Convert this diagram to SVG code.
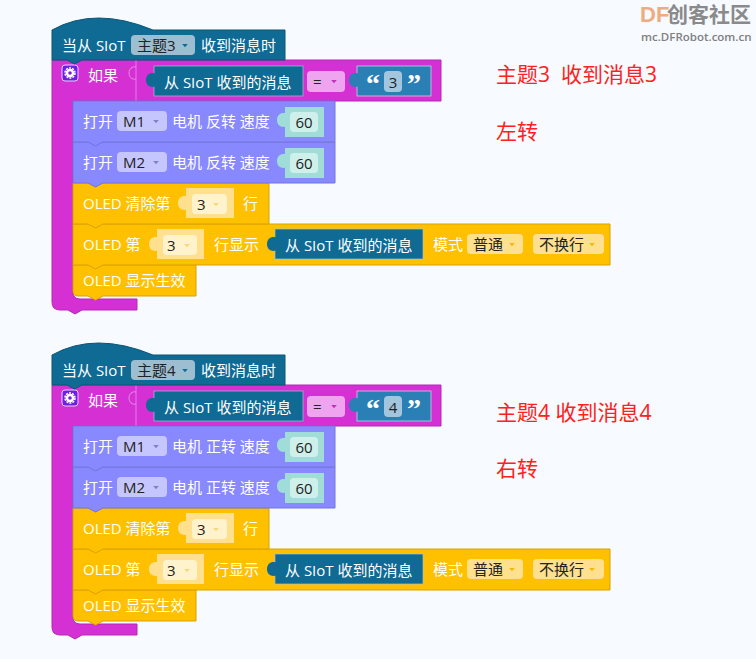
<svg xmlns="http://www.w3.org/2000/svg" width="756" height="659" viewBox="0 0 756 659">
<style>
text{font-family:"Open Sans","Noto Sans CJK SC",sans-serif;font-size:15px;fill:#fff;dominant-baseline:central}
.d{fill:#222}
.hat,.rep{fill:#0f6a94;stroke:#0b5576;stroke-width:1}
.ifb{fill:#d430d4;stroke:#b428b4;stroke-width:1}
.mot{fill:#8888ff;stroke:#7474d9;stroke-width:1}
.ole{fill:#ffc000;stroke:#d9a300;stroke-width:1}
.rep{stroke:#9fc3d4;stroke-width:0.700}
.mf{fill:#c6c6ff}.cf{fill:#cff0ea}.ci{fill:#a0dcd8}.of{fill:#ffe08f}.ol{fill:#fff3cd}
.arw{fill:#8080c8}.arwo{fill:#f5d878}.arwd{fill:#f5b800}
.red{fill:#ff2020;font-size:21px}
</style>
<defs>
<path id="tab" d="M1,0.500C-3,-1 -8,1 -8,7C-8,13 -3,15 1,13.500Z"/>
<path id="dn" d="M-2.800,0H2.800L0,3.200Z"/>
<g id="motor">
<path class="mot" d="M73,0H335V41H103L95.500,45L88,41H73Z"/>
<text x="83" y="20">打开</text>
<rect class="mf" x="117" y="10" width="50" height="20" rx="4"/>
<use href="#dn" x="156" y="19" class="arw"/>
<rect class="ci" x="285" y="6" width="39" height="30"/>
<use href="#tab" x="285" y="12" class="ci"/>
<rect class="cf" x="290" y="11" width="28" height="20" rx="4"/>
<text x="304" y="21" text-anchor="middle" class="d">60</text>
</g>
<g id="gear">
<rect x="62" y="65" width="16" height="16" rx="3" fill="#6f1fe0" stroke="#e9d0ff" stroke-width="1"/>
<circle cx="70" cy="73" r="3" fill="none" stroke="#fff" stroke-width="2.400"/>
<circle cx="70" cy="73" r="5" fill="none" stroke="#fff" stroke-width="1.500" stroke-dasharray="2 1.140"/>
</g>
<g id="oled3">
<path class="ole" d="M73,224H610V265H103L95.500,269L88,265H73Z"/>
<text x="83" y="244">OLED 第</text>
<rect class="of" x="157" y="229" width="47" height="30"/>
<use href="#tab" x="157" y="237" class="of"/>
<rect class="ol" x="163" y="235" width="34" height="20" rx="4"/>
<text x="167" y="245" class="d">3</text>
<use href="#dn" x="187" y="244" class="arwo"/>
<text x="214" y="244">行显示</text>
<rect class="rep" x="275" y="229" width="148" height="30"/>
<use href="#tab" x="275" y="237" fill="#0f6a94"/>
<text x="285" y="245">从 SIoT 收到的消息</text>
<text x="433" y="244">模式</text>
<rect class="of" x="467" y="234" width="56" height="20" rx="4"/>
<text x="473" y="244" class="d">普通</text>
<use href="#dn" x="512" y="243" class="arwd"/>
<rect class="of" x="533" y="234" width="71" height="20" rx="4"/>
<text x="539" y="244" class="d">不换行</text>
<use href="#dn" x="592" y="243" class="arwd"/>
</g>
<g id="oled2">
<path class="ole" d="M73,183H269V224H103L95.500,228L88,224H73Z"/>
<text x="83" y="203">OLED 清除第</text>
<rect class="of" x="186" y="188" width="48" height="30"/>
<use href="#tab" x="186" y="196" class="of"/>
<rect class="ol" x="192" y="194" width="35" height="20" rx="4"/>
<text x="197" y="204" class="d">3</text>
<use href="#dn" x="216" y="203" class="arwo"/>
<text x="243" y="203">行</text>
</g>
<g id="oled1">
<path class="ole" d="M73,265H196V296H103L95.500,300L88,296H78Q73,296 73,291Z"/>
<text x="83" y="280">OLED 显示生效</text>
</g>
<g id="ifbase">
<path class="ifb" d="M52,60H441V101H73V292Q73,299 80,299H137V310H82L75,314L68,310H60Q52,310 52,302Z"/>
<path d="M136,60V101" stroke="#e878e8" stroke-width="1" fill="none"/>
<path d="M136,67C132,66 129,69 129,73C129,77 132,80 136,79" fill="none" stroke="#e88ce8" stroke-width="1"/>
<text x="88" y="75">如果</text>
<rect class="rep" x="154" y="66" width="149" height="30"/>
<use href="#tab" x="154" y="73" fill="#0f6a94"/>
<text x="164" y="82">从 SIoT 收到的消息</text>
<rect x="307" y="71" width="38" height="21" rx="4" fill="#eea4ee"/>
<text x="313" y="81" class="d">=</text>
<use href="#dn" x="334" y="80" fill="#c030c0"/>
<rect x="357" y="66" width="74" height="30" fill="#2a7fb5" stroke="#cfe1ea" stroke-width="0.700"/>
<use href="#tab" x="357" y="73" fill="#2a7fb5"/>
<rect x="384" y="71" width="18" height="21" rx="4" fill="#a3c6de"/>
<text x="366" y="83" style="font-family:'Liberation Serif',serif;font-size:28px;font-weight:bold">“</text>
<text x="407" y="83" style="font-family:'Liberation Serif',serif;font-size:28px;font-weight:bold">”</text>
</g>
</defs>
<rect width="756" height="659" fill="#f7faff"/>
<g id="connectors"/>
<g id="stack-1">
<g id="s1-if"><use href="#ifbase"/><use href="#gear"/><text x="393" y="82" text-anchor="middle" class="d">3</text></g>
<g id="s1-oled-show"><use href="#oled1"/></g>
<g id="s1-oled-line"><use href="#oled3"/></g>
<g id="s1-oled-clear"><use href="#oled2"/></g>
<g id="s1-motor2" transform="translate(0,142)"><use href="#motor"/><text x="123" y="20" class="d">M2</text><text x="172" y="20">电机 反转 速度</text></g>
<g id="s1-motor1" transform="translate(0,101)"><use href="#motor"/><text x="123" y="20" class="d">M1</text><text x="172" y="20">电机 反转 速度</text></g>
<g id="s1-hat">
<path class="hat" d="M52,60V30Q95,6 153,30H285V60H82L74.500,64L67,60Z"/>
<text x="62" y="45">当从 SIoT</text>
<rect x="131" y="35" width="64" height="20" rx="4" fill="#9dbdd0"/>
<text x="137" y="45" class="d">主题3</text>
<use href="#dn" x="185" y="44" fill="#0f6a94"/>
<text x="201" y="45">收到消息时</text>
</g>
</g>
<g id="stack-2" transform="translate(0,325)">
<g id="s2-if"><use href="#ifbase"/><use href="#gear"/><text x="393" y="82" text-anchor="middle" class="d">4</text></g>
<g id="s2-oled-show"><use href="#oled1"/></g>
<g id="s2-oled-line"><use href="#oled3"/></g>
<g id="s2-oled-clear"><use href="#oled2"/></g>
<g id="s2-motor2" transform="translate(0,142)"><use href="#motor"/><text x="123" y="20" class="d">M2</text><text x="172" y="20">电机 正转 速度</text></g>
<g id="s2-motor1" transform="translate(0,101)"><use href="#motor"/><text x="123" y="20" class="d">M1</text><text x="172" y="20">电机 正转 速度</text></g>
<g id="s2-hat">
<path class="hat" d="M52,60V30Q95,6 153,30H285V60H82L74.500,64L67,60Z"/>
<text x="62" y="45">当从 SIoT</text>
<rect x="131" y="35" width="64" height="20" rx="4" fill="#9dbdd0"/>
<text x="137" y="45" class="d">主题4</text>
<use href="#dn" x="185" y="44" fill="#0f6a94"/>
<text x="201" y="45">收到消息时</text>
</g>
</g>
<g id="notes">
<text x="496" y="74" class="red" xml:space="preserve">主题3  收到消息3</text>
<text x="496" y="131" class="red">左转</text>
<text x="496" y="412" class="red">主题4 收到消息4</text>
<text x="496" y="468" class="red">右转</text>
</g>
<g id="watermark">
<text x="640" y="14" style="font-size:22px;font-weight:bold;fill:#eeac80;font-family:'Liberation Sans',sans-serif">DF</text>
<text x="667" y="14" style="font-size:21px;font-weight:bold;fill:#8a8a8a">创客社区</text>
<text x="641" y="36" style="font-size:11.500px;font-weight:600;fill:#808080">mc.DFRobot.com.cn</text>
</g>
</svg>
